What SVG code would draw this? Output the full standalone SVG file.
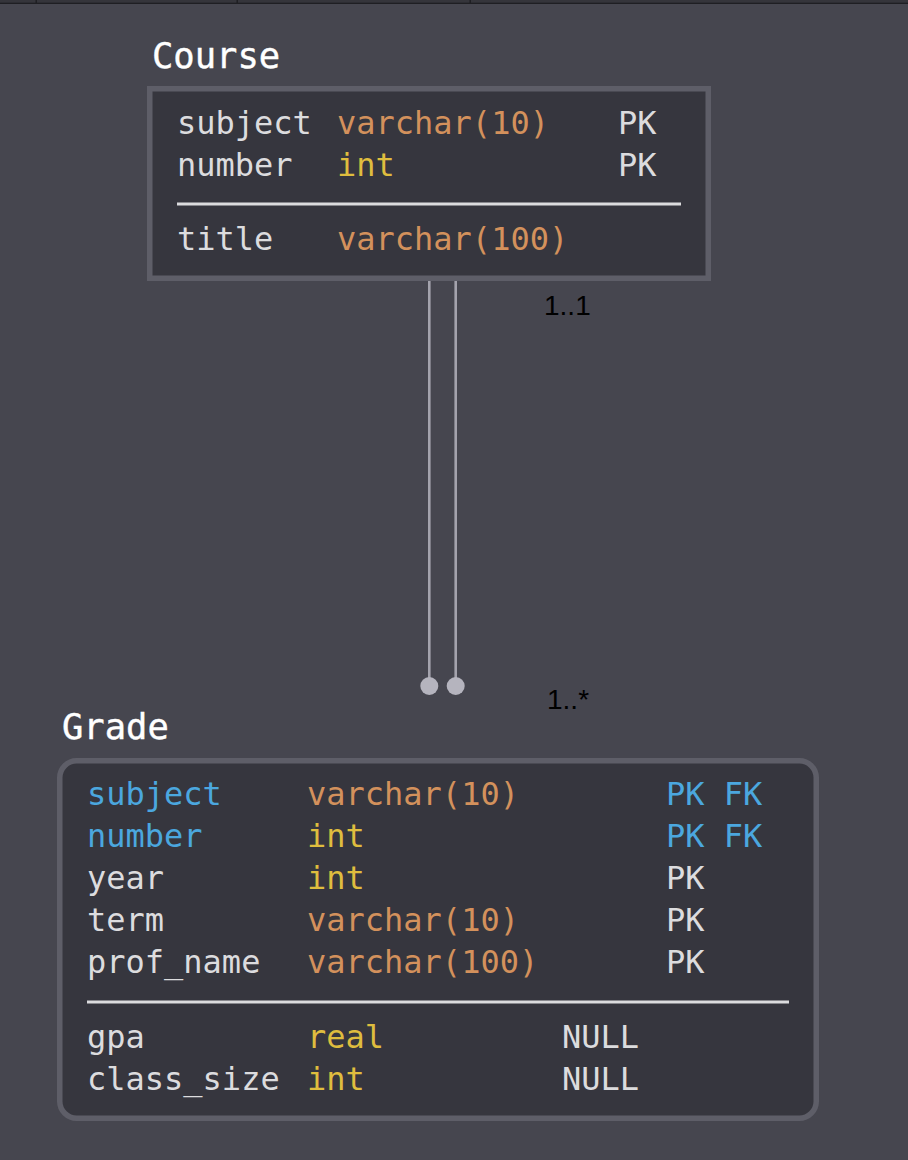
<svg xmlns="http://www.w3.org/2000/svg" width="908" height="1160" viewBox="0 0 908 1160">
<style>
.mono{font-family:"DejaVu Sans Mono","Liberation Mono",monospace;font-size:32px}
.title{fill:#ffffff;font-size:35.5px;stroke:#ffffff;stroke-width:0.4}
.nm{fill:#dcdcde}
.ty{fill:#d3915c}
.ti{fill:#dfbd3e}
.fk{fill:#4ba7df}
.lbl{font-family:"Liberation Sans",Arial,sans-serif;font-size:28px;fill:#000000}
.box{fill:#36363e;stroke:#5e5e68;stroke-width:5.5}
.sep{stroke:#dcdcde;stroke-width:3}
.conn{stroke:#a4a3ad;stroke-width:2.6;fill:none}
.dot{fill:#b5b4be}
</style>
<rect x="0" y="0" width="908" height="1160" fill="#46464f"/>
<rect x="0" y="0" width="908" height="2.5" fill="#35353b"/>
<rect x="0" y="2.5" width="908" height="1.5" fill="#1f1f23"/>
<g fill="#1f1f23"><rect x="35.5" y="0" width="1.5" height="3"/><rect x="236.5" y="0" width="1.5" height="3"/><rect x="469.5" y="0" width="1.5" height="3"/></g>
<g id="connectors">
<line class="conn" x1="429.3" y1="281" x2="429.3" y2="686"/>
<line class="conn" x1="455.7" y1="281" x2="455.7" y2="686"/>
<circle class="dot" cx="429.3" cy="686" r="9"/>
<circle class="dot" cx="455.7" cy="686" r="9"/>
<text class="lbl" x="544" y="315">1..1</text>
<text class="lbl" x="547" y="709">1..*</text>
</g>
<g id="course">
<text class="mono title" x="152" y="67.5">Course</text>
<rect class="box" x="149.75" y="88.75" width="558.5" height="189.5"/>
<text class="mono nm" x="177" y="134">subject</text>
<text class="mono ty" x="337" y="134">varchar(10)</text>
<text class="mono nm" x="618" y="134">PK</text>
<text class="mono nm" x="177" y="176">number</text>
<text class="mono ti" x="337" y="176">int</text>
<text class="mono nm" x="618" y="176">PK</text>
<line class="sep" x1="177" y1="204" x2="681" y2="204"/>
<text class="mono nm" x="177" y="250">title</text>
<text class="mono ty" x="337" y="250">varchar(100)</text>
</g>
<g id="grade">
<text class="mono title" x="62" y="738.5">Grade</text>
<rect class="box" x="59.75" y="760.75" width="756.5" height="357.5" rx="17" ry="17"/>
<text class="mono fk" x="87" y="805">subject</text>
<text class="mono ty" x="307" y="805">varchar(10)</text>
<text class="mono fk" x="666" y="805">PK FK</text>
<text class="mono fk" x="87" y="847">number</text>
<text class="mono ti" x="307" y="847">int</text>
<text class="mono fk" x="666" y="847">PK FK</text>
<text class="mono nm" x="87" y="889">year</text>
<text class="mono ti" x="307" y="889">int</text>
<text class="mono nm" x="666" y="889">PK</text>
<text class="mono nm" x="87" y="931">term</text>
<text class="mono ty" x="307" y="931">varchar(10)</text>
<text class="mono nm" x="666" y="931">PK</text>
<text class="mono nm" x="87" y="973">prof_name</text>
<text class="mono ty" x="307" y="973">varchar(100)</text>
<text class="mono nm" x="666" y="973">PK</text>
<line class="sep" x1="87" y1="1002" x2="789" y2="1002"/>
<text class="mono nm" x="87" y="1048">gpa</text>
<text class="mono ti" x="307" y="1048">real</text>
<text class="mono nm" x="562" y="1048">NULL</text>
<text class="mono nm" x="87" y="1090">class_size</text>
<text class="mono ti" x="307" y="1090">int</text>
<text class="mono nm" x="562" y="1090">NULL</text>
</g>
</svg>
